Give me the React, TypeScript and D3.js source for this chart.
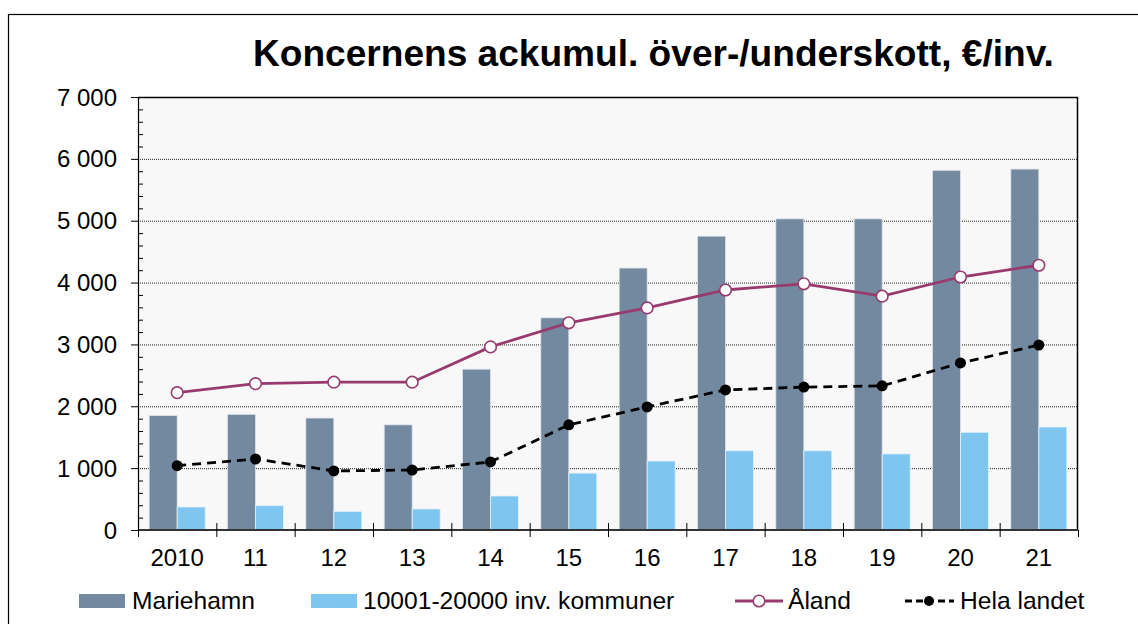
import React, { useEffect, useRef } from 'react';
import * as d3 from 'd3';

// data
const years = ['2010', '11', '12', '13', '14', '15', '16', '17', '18', '19', '20', '21'];
const mariehamn = [1850, 1870, 1810, 1700, 2600, 3430, 4235, 4750, 5030, 5030, 5815, 5835];
const kommuner = [372, 393, 302, 340, 550, 920, 1115, 1280, 1280, 1230, 1580, 1665];
const aland = [2220, 2365, 2390, 2390, 2960, 3350, 3590, 3880, 3980, 3780, 4090, 4280];
const helaLandet = [1040, 1148, 955, 970, 1100, 1700, 1990, 2265, 2310, 2330, 2700, 2990];
const yTicks = [0, 1000, 2000, 3000, 4000, 5000, 6000, 7000];

const title = 'Koncernens ackumul. över-/underskott, €/inv.';
const seriesNames = ['Mariehamn', '10001-20000 inv. kommuner', 'Åland', 'Hela landet'];

const colMarie = '#73899f';
const colKomm = '#7ec6ef';
const colAland = '#993a6e';

export default function App() {
  const ref = useRef<SVGSVGElement>(null);

  useEffect(() => {
    document.body.style.margin = '0';
    const width = 1138;
    const height = 624;
    const plot = { left: 138, right: 1078, top: 97, bottom: 530 };
    const font = 'Arial, "Liberation Sans", sans-serif';

    const svg = d3.select(ref.current).attr('viewBox', [0, 0, width, height]);
    svg.selectAll('*').remove();

    // outer frame
    svg.append('rect')
      .attr('x', 8.5).attr('y', 14.5)
      .attr('width', 1200).attr('height', 700)
      .attr('fill', 'white').attr('stroke', '#000').attr('stroke-width', 1.2);

    // title
    svg.append('text')
      .attr('x', 253).attr('y', 66)
      .attr('font-family', font).attr('font-weight', 'bold').attr('font-size', 37.1)
      .attr('fill', '#000')
      .text(title);

    const x = d3.scaleBand().domain(years).range([plot.left, plot.right]).padding(0);
    const y = d3.scaleLinear().domain([0, 7000]).range([plot.bottom, plot.top]);
    const barW = 28;

    // plot background
    svg.append('rect')
      .attr('x', plot.left).attr('y', plot.top)
      .attr('width', plot.right - plot.left).attr('height', plot.bottom - plot.top)
      .attr('fill', '#f8f8f8');

    // gridlines
    svg.append('g').selectAll('line')
      .data(yTicks.slice(1, -1))
      .enter().append('line')
      .attr('x1', plot.left).attr('x2', plot.right)
      .attr('y1', (d) => y(d) + 0.5).attr('y2', (d) => y(d) + 0.5)
      .attr('stroke', '#222').attr('stroke-width', 1).attr('stroke-dasharray', '1,1');

    // bars
    const bars = svg.append('g');
    bars.selectAll('.marie')
      .data(mariehamn)
      .enter().append('rect')
      .attr('x', (d, i) => x(years[i])! + x.bandwidth() / 2 - barW)
      .attr('y', (d) => y(d))
      .attr('width', barW)
      .attr('height', (d) => y(0) - y(d))
      .attr('fill', colMarie).attr('stroke', '#dfe4ea').attr('stroke-width', 0.8);
    bars.selectAll('.komm')
      .data(kommuner)
      .enter().append('rect')
      .attr('x', (d, i) => x(years[i])! + x.bandwidth() / 2)
      .attr('y', (d) => y(d))
      .attr('width', barW)
      .attr('height', (d) => y(0) - y(d))
      .attr('fill', colKomm).attr('stroke', '#e3f2fb').attr('stroke-width', 0.8);

    // plot frame top/right
    svg.append('path')
      .attr('d', `M${plot.left},${plot.top + 0.5}H${plot.right - 0.5}V${plot.bottom}`)
      .attr('fill', 'none').attr('stroke', '#000').attr('stroke-width', 1.5);

    // y axis
    const yAxis = svg.append('g');
    yAxis.append('line')
      .attr('x1', plot.left + 0.5).attr('x2', plot.left + 0.5)
      .attr('y1', plot.top).attr('y2', plot.bottom)
      .attr('stroke', '#000').attr('stroke-width', 1.2);
    yAxis.selectAll('.minor')
      .data(d3.range(0, 7001, 200).filter((v) => v % 1000 !== 0))
      .enter().append('line')
      .attr('x1', plot.left).attr('x2', plot.left + 5)
      .attr('y1', (d) => y(d) + 0.5).attr('y2', (d) => y(d) + 0.5)
      .attr('stroke', '#000');
    yAxis.selectAll('.major')
      .data(yTicks)
      .enter().append('line')
      .attr('x1', plot.left - 7).attr('x2', plot.left)
      .attr('y1', (d) => y(d) + 0.5).attr('y2', (d) => y(d) + 0.5)
      .attr('stroke', '#000');
    yAxis.selectAll('text')
      .data(yTicks)
      .enter().append('text')
      .attr('x', 117).attr('y', (d) => y(d))
      .attr('dy', '0.36em')
      .attr('text-anchor', 'end')
      .attr('font-family', font).attr('font-size', 24).attr('fill', '#000')
      .text((d) => d3.format(',')(d).replace(/,/g, ' '));

    // x axis
    const xAxis = svg.append('g');
    xAxis.append('line')
      .attr('x1', plot.left).attr('x2', plot.right)
      .attr('y1', plot.bottom).attr('y2', plot.bottom)
      .attr('stroke', '#333').attr('stroke-width', 2);
    const bounds = years.map((d) => x(d)!).concat([plot.right]);
    xAxis.selectAll('.tick')
      .data(bounds)
      .enter().append('line')
      .attr('x1', (d) => d + 0.5).attr('x2', (d) => d + 0.5)
      .attr('y1', (d, i) => (i === bounds.length - 1 ? plot.bottom : plot.bottom - 7))
      .attr('y2', plot.bottom + 7)
      .attr('stroke', '#000');
    xAxis.selectAll('text')
      .data(years)
      .enter().append('text')
      .attr('x', (d) => x(d)! + x.bandwidth() / 2)
      .attr('y', 566)
      .attr('text-anchor', 'middle')
      .attr('font-family', font).attr('font-size', 24).attr('fill', '#000')
      .text((d) => d);

    // lines
    const line = d3.line<number>()
      .x((d, i) => x(years[i])! + x.bandwidth() / 2)
      .y((d) => y(d));

    svg.append('path')
      .datum(helaLandet)
      .attr('d', line)
      .attr('fill', 'none').attr('stroke', '#000')
      .attr('stroke-width', 2.8).attr('stroke-dasharray', '9,6');
    svg.append('g').selectAll('circle')
      .data(helaLandet)
      .enter().append('circle')
      .attr('cx', (d, i) => x(years[i])! + x.bandwidth() / 2)
      .attr('cy', (d) => y(d))
      .attr('r', 5.5).attr('fill', '#000');

    svg.append('path')
      .datum(aland)
      .attr('d', line)
      .attr('fill', 'none').attr('stroke', colAland).attr('stroke-width', 2.8);
    svg.append('g').selectAll('circle')
      .data(aland)
      .enter().append('circle')
      .attr('cx', (d, i) => x(years[i])! + x.bandwidth() / 2)
      .attr('cy', (d) => y(d))
      .attr('r', 5.8).attr('fill', '#fff').attr('stroke', colAland).attr('stroke-width', 1.6);

    // legend
    const lg = svg.append('g').attr('font-family', font).attr('font-size', 24.6).attr('fill', '#000');
    const ly = 601;
    lg.append('rect').attr('x', 79).attr('y', 594).attr('width', 46).attr('height', 14).attr('fill', colMarie);
    lg.append('text').attr('x', 132).attr('y', 609).text(seriesNames[0]);
    lg.append('rect').attr('x', 311).attr('y', 594).attr('width', 46).attr('height', 14).attr('fill', colKomm);
    lg.append('text').attr('x', 363).attr('y', 609).text(seriesNames[1]);
    lg.append('line').attr('x1', 735).attr('x2', 783).attr('y1', ly).attr('y2', ly)
      .attr('stroke', colAland).attr('stroke-width', 2.8);
    lg.append('circle').attr('cx', 759).attr('cy', ly).attr('r', 5.8)
      .attr('fill', '#fff').attr('stroke', colAland).attr('stroke-width', 1.6);
    lg.append('text').attr('x', 788).attr('y', 609).text(seriesNames[2]);
    lg.append('line').attr('x1', 905).attr('x2', 954).attr('y1', ly).attr('y2', ly)
      .attr('stroke', '#000').attr('stroke-width', 2.8).attr('stroke-dasharray', '7,4');
    lg.append('circle').attr('cx', 929).attr('cy', ly).attr('r', 5).attr('fill', '#000');
    lg.append('text').attr('x', 960).attr('y', 609).text(seriesNames[3]);
  }, []);

  return (
    <svg ref={ref} width={1138} height={624} style={{ display: 'block' }} />
  );
}
